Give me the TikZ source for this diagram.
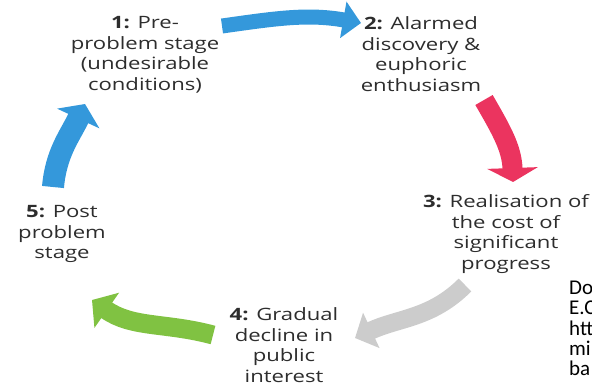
\documentclass[tikz,border=0pt]{standalone}
\usepackage{fontspec}
\setmainfont{Open Sans}
\newfontfamily\notefont{Carlito}
\usetikzlibrary{arrows.meta}
\definecolor{cblue}{RGB}{52,152,219}
\definecolor{cred}{RGB}{235,52,95}
\definecolor{cgray}{RGB}{204,204,204}
\definecolor{cgreen}{RGB}{128,194,66}
\definecolor{ctext}{RGB}{45,45,45}
\begin{document}
\begin{tikzpicture}[x=1pt,y=1pt,
  stage/.style={align=center, font=\fontsize{17}{20.5}\selectfont, text=ctext, xscale=1.3, inner sep=0pt},
  flow/.style={line width=#1}]
\useasboundingbox (0,0) rectangle (592,-386);
\clip (0,0) rectangle (592,-386);

\node[stage] (s1) at (145,-55) {\textbf{1:} Pre-\\problem stage\\(undesirable\\conditions)};
\node[stage] (s2) at (421,-54) {\textbf{2:} Alarmed\\discovery \&\\euphoric\\enthusiasm};
\node[stage] (s3) at (506,-234) {\textbf{3:} Realisation of\\the cost of\\significant\\progress};
\node[stage] (s4) at (284,-345) {\textbf{4:} Gradual\\decline in\\public\\interest};
\node[stage] (s5) at (62,-234) {\textbf{5:} Post\\problem\\stage};

\node[anchor=west, align=left, inner sep=0pt, font=\notefont\fontsize{21}{20.25}\selectfont, text=black] (note) at (569,-328.5) {Do\\E.C\\htt\\mi\\ba};

\coordinate (b1) at (222,-26); \coordinate (b2) at (361,-23);
\coordinate (r1) at (484,-100); \coordinate (r2) at (513,-182);
\coordinate (g1) at (465,-285); \coordinate (g2) at (355,-338);
\coordinate (n1) at (213,-335); \coordinate (n2) at (92,-300);
\coordinate (l1) at (53,-187); \coordinate (l2) at (85,-104);

\draw[cblue, flow=15pt, -{Triangle[length=18pt,width=36pt]}] (b1) to[out=8,in=170] (b2);
\draw[cred, flow=20pt, -{Triangle[length=14pt,width=50pt]}] (r1) to[out=-60,in=92] (r2);
\draw[cgray, flow=18pt, -{Triangle[length=18pt,width=38pt]}] (g1) to[out=225,in=25] (g2);
\draw[cgreen, flow=19pt, -{Triangle[length=18pt,width=42pt]}] (n1) to[out=165,in=-35] (n2);
\draw[cblue, flow=22pt, -{Triangle[length=16pt,width=46pt]}] (l1) to[out=85,in=-115] (l2);
\end{tikzpicture}
\end{document}
